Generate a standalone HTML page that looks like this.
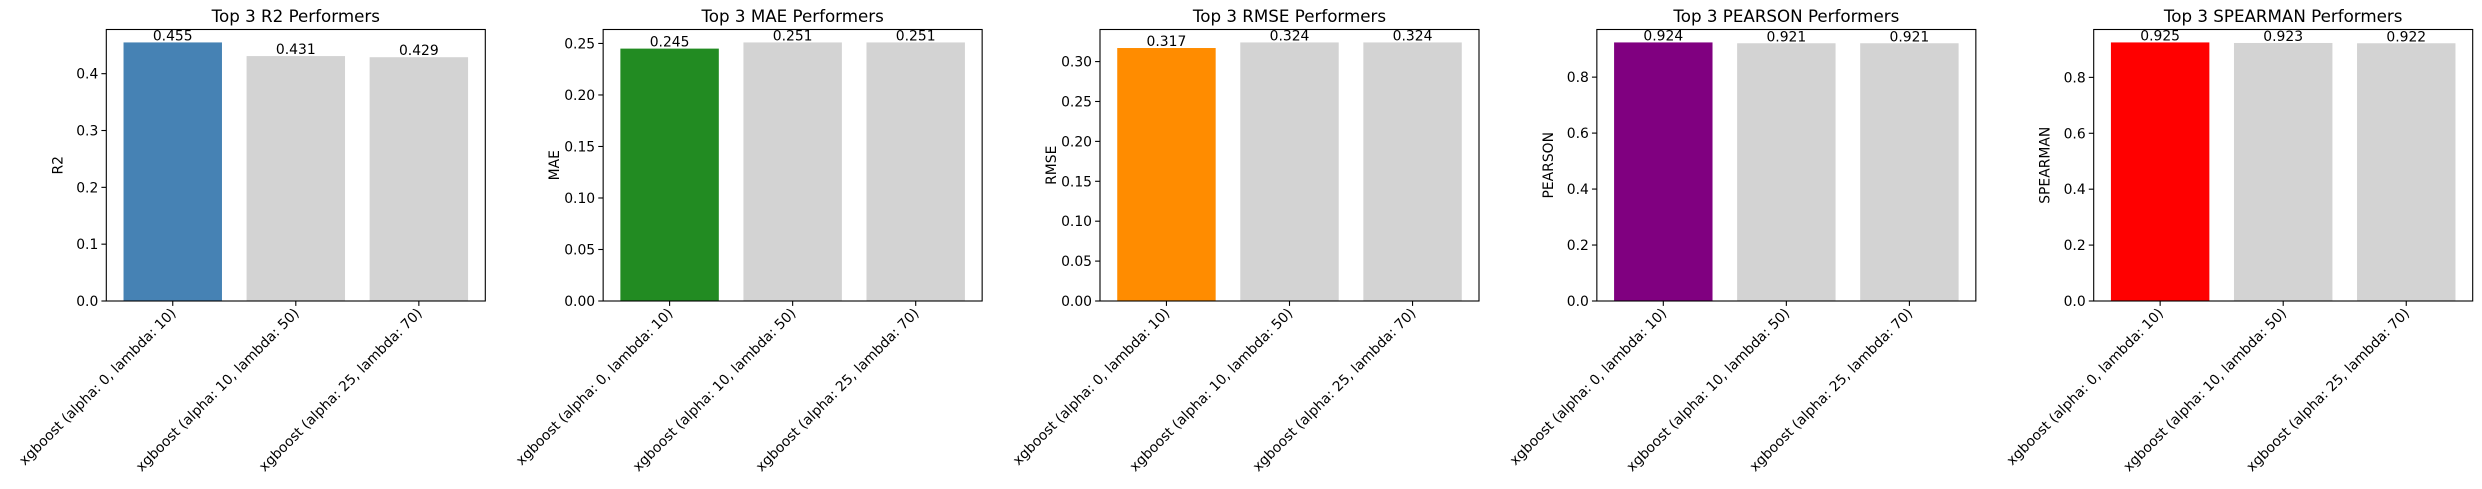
<!DOCTYPE html>
<html><head><meta charset="utf-8">
<style>
body{margin:0;background:#fff;}
svg{display:block;font-family:"DejaVu Sans","Liberation Sans",sans-serif;}
</style></head>
<body>
<svg id="chart" width="2482" height="489" xmlns="http://www.w3.org/2000/svg"></svg>
<script>
const categories = ["xgboost (alpha: 0, lambda: 10)","xgboost (alpha: 10, lambda: 50)","xgboost (alpha: 25, lambda: 70)"];
const metricNames = ["R2","MAE","RMSE","PEARSON","SPEARMAN"];
const r2Values = [0.455,0.431,0.429];
const maeValues = [0.245,0.251,0.251];
const rmseValues = [0.317,0.324,0.324];
const pearsonValues = [0.924,0.921,0.921];
const spearmanValues = [0.925,0.923,0.922];
const r2Ticks = [0,0.1,0.2,0.3,0.4];
const maeTicks = [0,0.05,0.1,0.15,0.2,0.25];
const rmseTicks = [0,0.05,0.1,0.15,0.2,0.25,0.3];
const pearsonTicks = [0,0.2,0.4,0.6,0.8];
const spearmanTicks = [0,0.2,0.4,0.6,0.8];
const tickDecimals = [1,2,2,1,1];
const highlightColors = ["#4682b4","#228b22","#ff8c00","#800080","#ff0000"];

const svg = document.getElementById('chart');
const NS = "http://www.w3.org/2000/svg";
function mk(tag, attrs, parent){
  const e = document.createElementNS(NS, tag);
  for (const k in attrs) e.setAttribute(k, attrs[k]);
  (parent||svg).appendChild(e);
  return e;
}
const allValues = [r2Values,maeValues,rmseValues,pearsonValues,spearmanValues];
const allTicks = [r2Ticks,maeTicks,rmseTicks,pearsonTicks,spearmanTicks];
const W = 379, TOP = 29.5, BOT = 301, H = BOT - TOP;

metricNames.forEach((name, p) => {
  const left = 106.3 + p * 496.85;
  const vals = allValues[p];
  const ymax = Math.max(...vals) * 1.05;
  const n = categories.length;
  const xmin = -0.4 - 0.05 * (n - 0.2), xmax = n - 1 + 0.4 + 0.05 * (n - 0.2);
  const xs = v => left + (v - xmin) / (xmax - xmin) * W;
  const ys = v => BOT - v / ymax * H;
  const g = mk('g', {});
  
  

  vals.forEach((v, i) => {
    const x0 = xs(i - 0.4), x1 = xs(i + 0.4);
    const r = mk('rect', {x:x0, y:ys(v), width:x1-x0, height:BOT-ys(v), fill: i===0 ? highlightColors[p] : '#d3d3d3'}, g);
    
    
    const t = mk('text', {x:xs(i), y:ys(v)-2, 'text-anchor':'middle', 'font-size':'13.9'}, g);
    t.textContent = v.toFixed(3);
    
    
    // x tick
    mk('line', {x1:xs(i), x2:xs(i), y1:BOT, y2:BOT+4.9, stroke:'#000', 'stroke-width':1.1}, g);
    const tx = xs(i) + 4, ty = BOT + 13;
    const lt = mk('text', {x:tx, y:ty, 'text-anchor':'end', 'font-size':'13.9', transform:`rotate(-45 ${tx} ${ty})`}, g);
    lt.textContent = categories[i];
    
    
  });

  allTicks[p].forEach(tv => {
    const y = ys(tv);
    mk('line', {x1:left-4.9, x2:left, y1:y, y2:y, stroke:'#000', 'stroke-width':1.1}, g);
    const t = mk('text', {x:left-8, y:y+5, 'text-anchor':'end', 'font-size':'13.9'}, g);
    t.textContent = tv.toFixed(tickDecimals[p]);
    
    
  });

  const fr = mk('rect', {x:left, y:TOP, width:W, height:H, fill:'none', stroke:'#000', 'stroke-width':1.1}, g);
  
  

  const ti = mk('text', {x:left+W/2, y:22, 'text-anchor':'middle', 'font-size':'16.7'}, g);
  ti.textContent = 'Top 3 ' + name + ' Performers';
  
  

  const yl = left - 44, ylc = TOP + H/2;
  const yt = mk('text', {x:yl, y:ylc, 'text-anchor':'middle', 'font-size':'13.9', transform:`rotate(-90 ${yl} ${ylc})`}, g);
  yt.textContent = name;
  
  
});
</script>
</body></html>
